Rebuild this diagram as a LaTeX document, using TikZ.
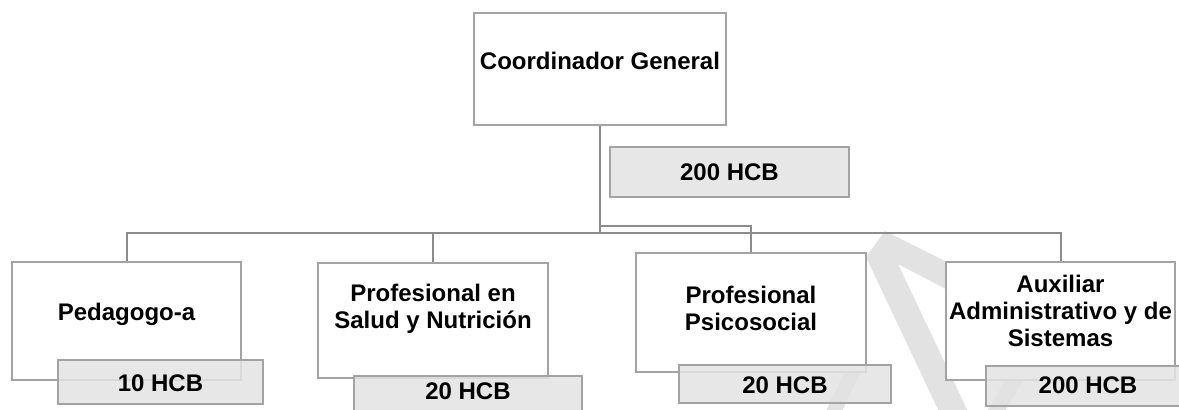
\documentclass[tikz,border=0pt]{standalone}
\usepackage{fontspec}
\setmainfont{Liberation Sans}
\definecolor{boxline}{HTML}{A3A3A3}
\definecolor{connline}{HTML}{8C8C8C}
\definecolor{hcbfill}{HTML}{E3E3E3}
\definecolor{wmark}{HTML}{E2E2E2}
\tikzset{
  orgbox/.style={draw=boxline, line width=1pt, fill=white, inner sep=0pt},
  hcbbox/.style={draw=boxline, line width=1pt, fill=hcbfill, fill opacity=0.85, inner sep=0pt},
  boxtext/.style={font=\fontsize{12}{13.5}\selectfont\bfseries, align=center, inner sep=0pt, text=black},
  conn/.style={draw=connline, line width=1pt},
  wm/.style={fill=wmark, draw=none}
}
\begin{document}
\begin{tikzpicture}[x=0.5pt, y=-0.5pt]
\clip (0,0) rectangle (1179,409);
\fill[white] (0,0) rectangle (1179,409);
% watermark strokes
\fill[wm] (885,231) -- (965,271) -- (965,299) -- (898,264) -- (972,420) -- (943,420) -- (866,257) -- cycle;
\fill[wm] (982,420) -- (1000,420) -- (1035,360) -- (1017,360) -- cycle;
\fill[wm] (822,420) -- (838,420) -- (866,360) -- (850,360) -- cycle;
% connector junctions
\coordinate (bus) at (600,233);
\coordinate (bustwo) at (600,226);
% boxes
\node[orgbox, minimum width=126pt, minimum height=56pt] (coord) at (600,69) {};
\node[boxtext] (coordT) at (600,61) {Coordinador General};
\node[orgbox, minimum width=114.5pt, minimum height=59pt] (ped) at (126.5,321) {};
\node[orgbox, minimum width=115pt, minimum height=57.5pt] (sal) at (433,320.5) {};
\node[orgbox, minimum width=115pt, minimum height=59.5pt] (psi) at (751,312.5) {};
\node[orgbox, minimum width=114.5pt, minimum height=59pt] (aux) at (1060.5,321) {};
% connectors
\draw[conn] (coord.south) -- (bus);
\draw[conn] (ped.north) -- (ped.north |- bus) -- (aux.north |- bus) -- (aux.north);
\draw[conn] (sal.north) -- (sal.north |- bus);
\draw[conn] (bustwo) -| (psi.north);
% redraw boxes on top of connectors ends
\node[orgbox, minimum width=114.5pt, minimum height=59pt] at (126.5,321) {};
\node[orgbox, minimum width=115pt, minimum height=57.5pt] at (433,320.5) {};
\node[orgbox, minimum width=115pt, minimum height=59.5pt] at (751,312.5) {};
\node[orgbox, minimum width=114.5pt, minimum height=59pt] at (1060.5,321) {};
% box texts
\node[boxtext] (pedT) at (126.5,314) {Pedagogo-a};
\node[boxtext] (salT) at (433,309) {Profesional en\\Salud y Nutrición};
\node[boxtext] (psiT) at (751,308) {Profesional\\Psicosocial};
\node[boxtext] (auxT) at (1060.5,311) {Auxiliar\\Administrativo y de\\Sistemas};
% HCB boxes
\node[hcbbox, minimum width=119.5pt, minimum height=25pt] (hcoord) at (729.5,172) {};
\node[boxtext] (hcoordT) at (729.5,172) {200 HCB};
\node[hcbbox, minimum width=102.5pt, minimum height=22pt] (hped) at (160.5,382) {};
\node[boxtext] (hpedT) at (160.5,383) {10 HCB};
\node[hcbbox, minimum width=114pt, minimum height=22pt] (hsal) at (468,398) {};
\node[boxtext] (hsalT) at (468,391) {20 HCB};
\node[hcbbox, minimum width=106pt, minimum height=19pt] (hpsi) at (785,384) {};
\node[boxtext] (hpsiT) at (785,385) {20 HCB};
\node[hcbbox, minimum width=102pt, minimum height=20pt] (haux) at (1088,386) {};
\node[boxtext] (hauxT) at (1088,385) {200 HCB};
\end{tikzpicture}
\end{document}
